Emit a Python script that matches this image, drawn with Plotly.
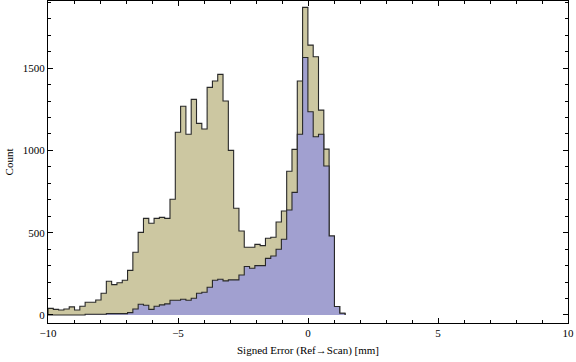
import plotly.graph_objects as go

# Histogram bins (left edge of first bin and bin width, in mm)
BIN_START = -10.0
BIN_WIDTH = 0.204

# Counts per bin: all points (tan) and subset (blue)
counts_all = [40, 34, 30, 36, 49, 30, 53, 77, 77, 91,
              132, 205, 184, 196, 211, 271, 381, 502, 587, 557,
              587, 593, 587, 703, 1110, 1268, 1098, 1310, 1164, 1130,
              1383, 1422, 1462, 1300, 1000, 648, 510, 411, 411, 429,
              421, 466, 472, 565, 632, 873, 1006, 1422, 1869, 1640,
              1569, 1245, 1008, 480, 51, 10]
counts_sub = [0, 0, 0, 0, 0, 0, 0, 4, 4, 4,
              4, 8, 8, 8, 8, 14, 36, 65, 59, 34,
              53, 61, 67, 89, 89, 95, 89, 101, 132, 138,
              168, 211, 217, 207, 213, 213, 243, 294, 284, 300,
              300, 344, 358, 399, 460, 638, 745, 1098, 1565, 1235,
              1083, 1098, 905, 480, 51, 10]

x_tickvals = [-10, -5, 0, 5, 10]
x_ticktext = ["\u221210", "\u22125", "0", "5", "10"]
y_tickvals = [0, 500, 1000, 1500]
y_ticktext = ["0", "500", "1000", "1500"]

TAN = "rgb(204,199,161)"
BLUE = "rgb(161,160,208)"
EDGE = "rgb(40,40,40)"


def step_xy(counts):
    xs = [BIN_START]
    ys = [0]
    for i, c in enumerate(counts):
        xs.append(BIN_START + i * BIN_WIDTH)
        ys.append(c)
    end = BIN_START + len(counts) * BIN_WIDTH
    xs += [end, end]
    ys += [counts[-1], 0]
    return xs, ys


fig = go.Figure()
for counts, col in [(counts_all, TAN), (counts_sub, BLUE)]:
    xs, ys = step_xy(counts)
    fig.add_trace(go.Scatter(
        x=xs, y=ys, mode="lines", line=dict(shape="hv", color=EDGE, width=1.1),
        fill="tozeroy", fillcolor=col, hoverinfo="skip", showlegend=False))

font = dict(family="Liberation Serif, Times New Roman, serif", size=11, color="black")

fig.update_layout(
    width=576, height=362,
    margin=dict(l=48, r=8, t=1, b=39),
    paper_bgcolor="white", plot_bgcolor="white",
    font=font,
    showlegend=False,
)
fig.update_xaxes(
    range=[-10, 10], showgrid=False, zeroline=False, automargin=False,
    showline=True, linecolor="black", linewidth=1, mirror="allticks",
    ticks="inside", ticklen=5, tickcolor="black", tickwidth=1,
    tickvals=x_tickvals, ticktext=x_ticktext, tickfont=font,
    minor=dict(dtick=1, ticks="inside", ticklen=3, tickcolor="black", showgrid=False),
    title=dict(text="Signed Error (Ref\u2192Scan) [mm]", font=font, standoff=8),
)
fig.update_yaxes(
    range=[-49, 1908], showgrid=False, zeroline=False, automargin=False,
    showline=True, linecolor="black", linewidth=1, mirror="allticks",
    ticks="inside", ticklen=5, tickcolor="black", tickwidth=1,
    tickvals=y_tickvals, ticktext=y_ticktext, tickfont=font,
    minor=dict(dtick=100, ticks="inside", ticklen=3, tickcolor="black", showgrid=False),
    title=dict(text="Count", font=font, standoff=6),
)

fig.write_html("out.html", config={"displayModeBar": False},
               post_script="document.body.style.margin='0';")
